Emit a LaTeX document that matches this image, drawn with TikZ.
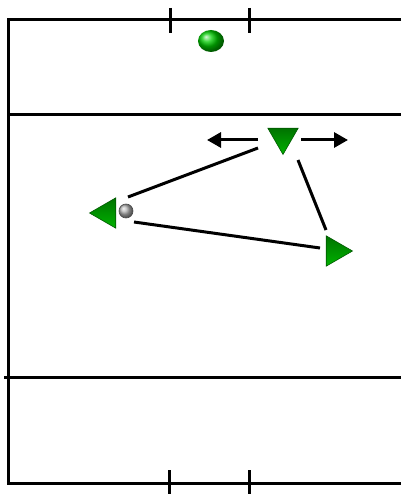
\documentclass[tikz,border=0pt]{standalone}
\usetikzlibrary{arrows.meta,shapes.geometric}
\begin{document}
\begin{tikzpicture}[x=1pt,y=-1pt,
  fieldline/.style={line width=3pt,black},
  pass/.style={line width=3pt,black},
  move/.style={line width=3pt,black,-{Triangle[length=14pt,width=15pt]}},
  player/.style={regular polygon,regular polygon sides=3,minimum size=35pt,inner sep=0pt,
     draw=green!35!black,line width=0.6pt,top color=green!45!black,bottom color=green!70!black}]
\useasboundingbox (0,0) rectangle (401,494);
% field
\draw[fieldline] (401,20) -- (8,20) -- (8,483) -- (401,483);
\draw[fieldline] (8,115) -- (401,115);
\draw[fieldline] (4,377) -- (401,377);
\draw[fieldline] (170,8) -- (170,33);
\draw[fieldline] (249,8) -- (249,33);
\draw[fieldline] (169,470) -- (169,494);
\draw[fieldline] (249,470) -- (249,494);
% ball top
\node[ellipse,minimum width=26pt,minimum height=22pt,inner sep=0pt,
  ball color=green!80!black,draw=none] (g) at (211,41) {};
% players
\node[player,shape border rotate=180] (p1) at (283,137) {};
\node[player,shape border rotate=90] (p2) at (107,213) {};
\node[player,shape border rotate=-90] (p3) at (335,251) {};
\node[circle,minimum size=14pt,inner sep=0pt,ball color=gray!60,draw=gray!60!black,line width=0.6pt] (b) at (126,211) {};
% arrows
\coordinate (la) at (207,140);
\coordinate (ra) at (348,140);
\draw[move] (258,140) -- (la);
\draw[move] (301,140) -- (ra);
% passes
\draw[pass] (128,197) -- (258,148);
\draw[pass] (298,160) -- (326,230);
\draw[pass] (134,222) -- (320,248);
\end{tikzpicture}
\end{document}
